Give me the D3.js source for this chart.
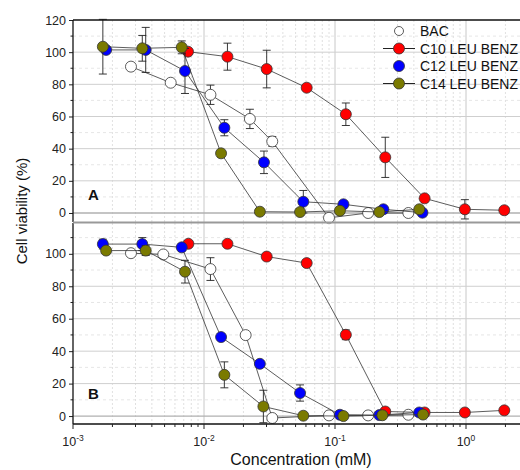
<!DOCTYPE html>
<html>
<head>
  <script src="https://cdn.jsdelivr.net/npm/d3@7"></script>
  <style>
    body { margin: 0; overflow: hidden; background: #fff; }
    text { font-family: Arial, "Liberation Sans", sans-serif; }
  </style>
</head>
<body>
  <div id="chart"></div>
  <script>
    // panel A
    let bacA_x = [2.77e-3, 5.57e-3, 1.12e-2, 2.24e-2, 3.32e-2, 9.0e-2, 0.179, 0.363];
    let bacA_y = [91, 81, 73.5, 58.5, 44.5, -3, 0, 0];
    let bacA_e = [1.5, 0, 6, 6, 3, 2, 1, 2];
    let c10A_x = [7.55e-3, 1.51e-2, 3.01e-2, 6.08e-2, 0.121, 0.242, 0.483, 0.98, 1.96];
    let c10A_y = [100.3, 97.2, 89.5, 77.9, 61.4, 34.6, 9.1, 2.3, 1.7];
    let c10A_e = [2, 8.4, 11.7, 1, 7, 12.5, 1, 6, 1.5];
    let c12A_x = [1.79e-3, 3.59e-3, 7.16e-3, 1.43e-2, 2.87e-2, 5.73e-2, 0.116, 0.234, 0.465];
    let c12A_y = [101.4, 101.4, 88.3, 53, 31.5, 7, 5.4, 2.3, 0.2];
    let c12A_e = [1, 14, 14, 5, 7, 7, 1, 1, 1];
    let c14A_x = [1.69e-3, 3.38e-3, 6.76e-3, 1.35e-2, 2.67e-2, 5.41e-2, 0.109, 0.218, 0.44];
    let c14A_y = [103.4, 102.4, 103, 37.1, 0.8, 0.6, 1.4, 0.6, 2.3];
    let c14A_e = [17, 8, 4, 1, 0, 2, 2, 1, 2];

    // panel B
    let bacB_x = [2.77e-3, 4.89e-3, 1.12e-2, 2.08e-2, 3.32e-2, 9.0e-2, 0.179, 0.363];
    let bacB_y = [100.4, 99.6, 90.6, 49.9, -1.2, 0.4, 0.4, 0.8];
    let bacB_e = [1, 1, 7, 1, 2, 2, 2, 2];
    let c10B_x = [7.6e-3, 1.51e-2, 3.01e-2, 6.08e-2, 0.121, 0.242, 0.483, 0.98, 1.96];
    let c10B_y = [106.2, 106.2, 98.3, 94.3, 50.1, 2.8, 2.2, 2.2, 3.5];
    let c10B_e = [2, 1, 2, 1, 3, 1, 1, 1, 1];
    let c12B_x = [1.69e-3, 3.38e-3, 6.76e-3, 1.35e-2, 2.67e-2, 5.41e-2, 0.109, 0.218, 0.44];
    let c12B_y = [106, 106, 104, 48.7, 32.2, 14.2, 0.8, 0.6, 2.2];
    let c12B_e = [3, 4, 2, 1, 1, 5, 1, 1, 1];
    let c14B_x = [1.79e-3, 3.59e-3, 7.16e-3, 1.43e-2, 2.84e-2, 5.73e-2, 0.116, 0.23, 0.47];
    let c14B_y = [102, 102, 89, 25.4, 5.9, 0.2, 0, 0.5, 0.9];
    let c14B_e = [1, 3, 7, 8, 10, 1, 1, 1, 1];

    let seriesNames = ['BAC', 'C10 LEU BENZ', 'C12 LEU BENZ', 'C14 LEU BENZ'];
    let seriesFill = ['#ffffff', '#ff0000', '#0000ff', '#7a7a00'];
    let legendLine = [false, true, false, true];

    let xTicks = [1e-3, 1e-2, 1e-1, 1];
    let xTickExp = ['-3', '-2', '-1', '0'];
    let yTicksA = [0, 20, 40, 60, 80, 100, 120];
    let yTicksB = [0, 20, 40, 60, 80, 100];

    let W = 560, H = 470;
    let svg = d3.select('#chart').append('svg')
      .attr('width', W).attr('height', H);

    let x = d3.scaleLog().domain([1e-3, Math.pow(10, 0.5)]).range([73, 531.5]);

    let yA = d3.scaleLinear().domain([-5.6, 120]).range([222, 20]);
    let yB = d3.scaleLinear().domain([-4.9, 119]).range([424, 223]);

    let minorX = [];
    for (let d = -3; d <= 0; d++) {
      for (let m = 2; m <= 9; m++) minorX.push(m * Math.pow(10, d));
    }
    minorX = minorX.filter(v => v < Math.pow(10, 0.5));

    function drawPanel(y, yTicks, top, bottom, data, label) {
      let g = svg.append('g');
      // minor vertical grid
      g.selectAll('.vmin').data(minorX).enter().append('line')
        .attr('x1', d => x(d)).attr('x2', d => x(d))
        .attr('y1', top).attr('y2', bottom)
        .attr('stroke', '#d8d8d8').attr('stroke-width', 0.8)
        .attr('stroke-dasharray', '2,2');
      // major vertical grid
      g.selectAll('.vmaj').data(xTicks.slice(1)).enter().append('line')
        .attr('x1', d => x(d)).attr('x2', d => x(d))
        .attr('y1', top).attr('y2', bottom)
        .attr('stroke', '#c8c8c8').attr('stroke-width', 1);
      // minor horizontal grid
      let minorY = d3.range(10, 120, 20);
      g.selectAll('.hmin').data(minorY).enter().append('line')
        .attr('x1', 73).attr('x2', W)
        .attr('y1', d => y(d)).attr('y2', d => y(d))
        .attr('stroke', '#e0e0e0').attr('stroke-width', 0.8)
        .attr('stroke-dasharray', '3,3');
      // major horizontal grid
      g.selectAll('.hmaj').data(yTicks.filter(v => v < 120)).enter().append('line')
        .attr('x1', 73).attr('x2', W)
        .attr('y1', d => y(d)).attr('y2', d => y(d))
        .attr('stroke', d => d === 0 ? '#b0b0b0' : '#cfcfcf')
        .attr('stroke-width', d => d === 0 ? 1.3 : 1);

      // y axis
      let axis = d3.axisLeft(y).tickValues(yTicks).tickSize(4).tickPadding(3)
        .tickFormat(d3.format('d'));
      let ay = svg.append('g').attr('transform', 'translate(73,0)').call(axis);
      ay.select('.domain').remove();
      ay.selectAll('text').attr('font-size', 12.5).attr('fill', '#222')
        .style('font-family', 'Arial, "Liberation Sans", sans-serif');
      ay.selectAll('.tick line').attr('stroke', '#222');
      let minorTicks = d3.range(10, 120, 20);
      svg.append('g').selectAll('line').data(minorTicks).enter().append('line')
        .attr('x1', 70.5).attr('x2', 73)
        .attr('y1', d => y(d)).attr('y2', d => y(d))
        .attr('stroke', '#222');
      svg.append('line').attr('x1', 73).attr('x2', 73)
        .attr('y1', top).attr('y2', bottom).attr('stroke', '#111').attr('stroke-width', 1.3);

      // series: lines, error bars, markers
      data.forEach((s, i) => {
        let pts = s.x.map((v, k) => ({ x: v, y: s.y[k], e: s.e[k] }));
        let line = d3.line().x(d => x(d.x)).y(d => y(d.y));
        svg.append('path').datum(pts)
          .attr('d', line).attr('fill', 'none')
          .attr('stroke', '#333').attr('stroke-width', 0.8);
        let eg = svg.append('g');
        pts.filter(d => d.e > 0).forEach(d => {
          eg.append('line').attr('x1', x(d.x)).attr('x2', x(d.x))
            .attr('y1', y(d.y - d.e)).attr('y2', y(d.y + d.e))
            .attr('stroke', '#222').attr('stroke-width', 0.9);
          [d.y - d.e, d.y + d.e].forEach(v => {
            eg.append('line').attr('x1', x(d.x) - 4).attr('x2', x(d.x) + 4)
              .attr('y1', y(v)).attr('y2', y(v))
              .attr('stroke', '#222').attr('stroke-width', 0.9);
          });
        });
        svg.append('g').selectAll('circle').data(pts).enter().append('circle')
          .attr('cx', d => x(d.x)).attr('cy', d => y(d.y)).attr('r', 5.5)
          .attr('fill', seriesFill[i]).attr('stroke', '#333').attr('stroke-width', 0.8);
      });

      svg.append('text').attr('x', 88).attr('y', label === 'A' ? 200 : 399)
        .attr('font-size', 15).attr('font-weight', 'bold').attr('fill', '#111')
        .text(label);
    }

    let dataA = [
      { x: bacA_x, y: bacA_y, e: bacA_e },
      { x: c10A_x, y: c10A_y, e: c10A_e },
      { x: c12A_x, y: c12A_y, e: c12A_e },
      { x: c14A_x, y: c14A_y, e: c14A_e }
    ];
    let dataB = [
      { x: bacB_x, y: bacB_y, e: bacB_e },
      { x: c10B_x, y: c10B_y, e: c10B_e },
      { x: c12B_x, y: c12B_y, e: c12B_e },
      { x: c14B_x, y: c14B_y, e: c14B_e }
    ];

    drawPanel(yA, yTicksA, 20, 222, dataA, 'A');
    drawPanel(yB, yTicksB, 223, 424, dataB, 'B');

    // frame lines
    svg.append('line').attr('x1', 73).attr('x2', W).attr('y1', 20).attr('y2', 20)
      .attr('stroke', '#111').attr('stroke-width', 1.3);
    svg.append('line').attr('x1', 73).attr('x2', W).attr('y1', 222.5).attr('y2', 222.5)
      .attr('stroke', '#999').attr('stroke-width', 2);
    svg.append('line').attr('x1', 73).attr('x2', W).attr('y1', 424).attr('y2', 424)
      .attr('stroke', '#111').attr('stroke-width', 1.3);

    // x axis ticks
    let ax = svg.append('g');
    ax.selectAll('.xmaj').data(xTicks).enter().append('line')
      .attr('x1', d => x(d)).attr('x2', d => x(d)).attr('y1', 424).attr('y2', 429)
      .attr('stroke', '#222');
    ax.selectAll('.xmin').data(minorX).enter().append('line')
      .attr('x1', d => x(d)).attr('x2', d => x(d)).attr('y1', 424).attr('y2', 427)
      .attr('stroke', '#222');
    let xl = ax.selectAll('.xlab').data(xTicks).enter().append('text')
      .attr('x', d => x(d)).attr('y', 446).attr('text-anchor', 'middle')
      .attr('font-size', 12.5).attr('fill', '#222');
    xl.append('tspan').text('10');
    xl.append('tspan').attr('dy', -5).attr('font-size', 8.5).text((d, i) => xTickExp[i]);

    // axis titles
    svg.append('text').attr('x', 301).attr('y', 465).attr('text-anchor', 'middle')
      .attr('font-size', 16).attr('fill', '#111').text('Concentration (mM)');
    svg.append('text').attr('transform', 'translate(27,211) rotate(-90)')
      .attr('text-anchor', 'middle').attr('font-size', 15).attr('fill', '#111')
      .text('Cell viability (%)');

    // legend
    let lg = svg.append('g');
    seriesNames.forEach((name, i) => {
      let ly = 31 + i * 17.5;
      if (legendLine[i]) {
        lg.append('line').attr('x1', 383).attr('x2', 415).attr('y1', ly).attr('y2', ly)
          .attr('stroke', '#222').attr('stroke-width', 1);
      }
      lg.append('circle').attr('cx', 399).attr('cy', ly).attr('r', i === 0 ? 4.5 : 5.5)
        .attr('fill', seriesFill[i]).attr('stroke', '#333').attr('stroke-width', 0.8);
      lg.append('text').attr('x', 420).attr('y', ly + 5).attr('font-size', 14)
        .attr('fill', '#111').text(name);
    });
  </script>
</body>
</html>
